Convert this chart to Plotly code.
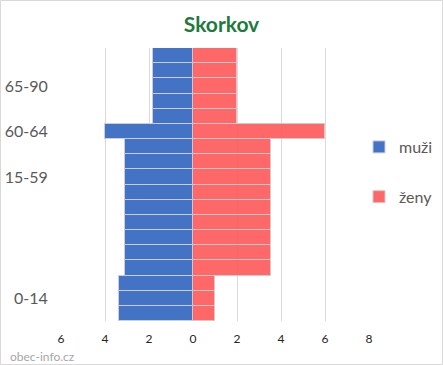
import plotly.graph_objects as go

# age bands, bottom to top
bands = ["0-4", "5-9", "10-14", "15-19", "20-24", "25-29", "30-34", "35-39",
         "40-44", "45-49", "50-54", "55-59", "60-64", "65-69", "70-74",
         "75-79", "80-84", "85-89"]
men = [3.35, 3.35, 3.35, 3.1, 3.1, 3.1, 3.1, 3.1, 3.1, 3.1, 3.1, 3.1,
       4.0, 1.8, 1.8, 1.8, 1.8, 1.8]
women = [1.0, 1.0, 1.0, 3.55, 3.55, 3.55, 3.55, 3.55, 3.55, 3.55, 3.55, 3.55,
         6.0, 2.0, 2.0, 2.0, 2.0, 2.0]

# group labels shown on the y axis (band where the label sits -> text)
label_bands = ["5-9", "45-49", "60-64", "75-79"]
label_text = ["0-14", "15-59", "60-64", "65-90"]

x_ticks = [-6, -4, -2, 0, 2, 4, 6, 8]
x_ticktext = ["6", "4", "2", "0", "2", "4", "6", "8"]

font = "Lato, Open Sans, sans-serif"

fig = go.Figure()
fig.add_trace(go.Bar(
    y=bands, x=[-v for v in men], orientation="h", name="muži",
    marker=dict(color="#4472C4", line=dict(color="#C9CDDD", width=1)),
    legendgroup="m", hoverinfo="skip"))
fig.add_trace(go.Bar(
    y=bands, x=women, orientation="h", name="ženy",
    marker=dict(color="rgba(255,88,88,0.9)", line=dict(color="#D4C8CC", width=1)),
    legendgroup="z", hoverinfo="skip"))

W, H = 443, 365
ml, mr, mt, mb = 61, 10, 48, 44
pw_total = W - ml - mr          # paper width in px
plot_w = 369 - ml               # x axis pixel length
ph = H - mt - mb

def px_x(px):
    return (px - ml) / pw_total

def px_y(py):
    return (H - mb - py) / ph

fig.update_layout(
    width=W, height=H,
    margin=dict(l=ml, r=mr, t=mt, b=mb, autoexpand=False),
    paper_bgcolor="white", plot_bgcolor="white",
    barmode="relative", bargap=0,
    font=dict(family=font),
    title=dict(text="<b>Skorkov</b>", x=0.5, xref="container", xanchor="center",
               y=1 - 25 / H, yanchor="middle",
               font=dict(size=21, color="#1E7A3C", family=font)),
    legend=dict(x=px_x(359), xanchor="left", y=px_y(130), yanchor="top",
                font=dict(size=16, color="#595959"),
                tracegroupgap=26, itemwidth=30, bgcolor="rgba(0,0,0,0)"),
    xaxis=dict(domain=[0, plot_w / pw_total],
               range=[-6, 8], tickvals=x_ticks, ticktext=x_ticktext,
               showgrid=True, gridcolor="#D9D9D9", gridwidth=1,
               zeroline=False, showline=False,
               tickfont=dict(size=12, color="#262626"),
               ticks="outside", ticklen=7, tickcolor="rgba(0,0,0,0)",
               fixedrange=True),
    yaxis=dict(type="category", categoryorder="array", categoryarray=bands,
               tickvals=label_bands, ticktext=label_text,
               showgrid=False, zeroline=False, showline=False,
               tickfont=dict(size=16, color="#595959"),
               ticks="outside", ticklen=9, tickcolor="rgba(0,0,0,0)",
               range=[-0.5, len(bands) - 0.5], fixedrange=True),
    showlegend=True,
)

fig.add_annotation(text="obec-info.cz", xref="paper", yref="paper",
                   x=px_x(8), y=px_y(356),
                   xanchor="left", yanchor="middle", showarrow=False,
                   font=dict(size=12, color="#A6A6A6", family=font))

# chart border
fig.add_shape(type="rect", xref="paper", yref="paper",
              x0=px_x(0.5), x1=px_x(W - 0.5),
              y0=px_y(H - 0.5), y1=px_y(0.5),
              line=dict(color="#D9D9D9", width=1), layer="below")

fig.write_html("out.html")
